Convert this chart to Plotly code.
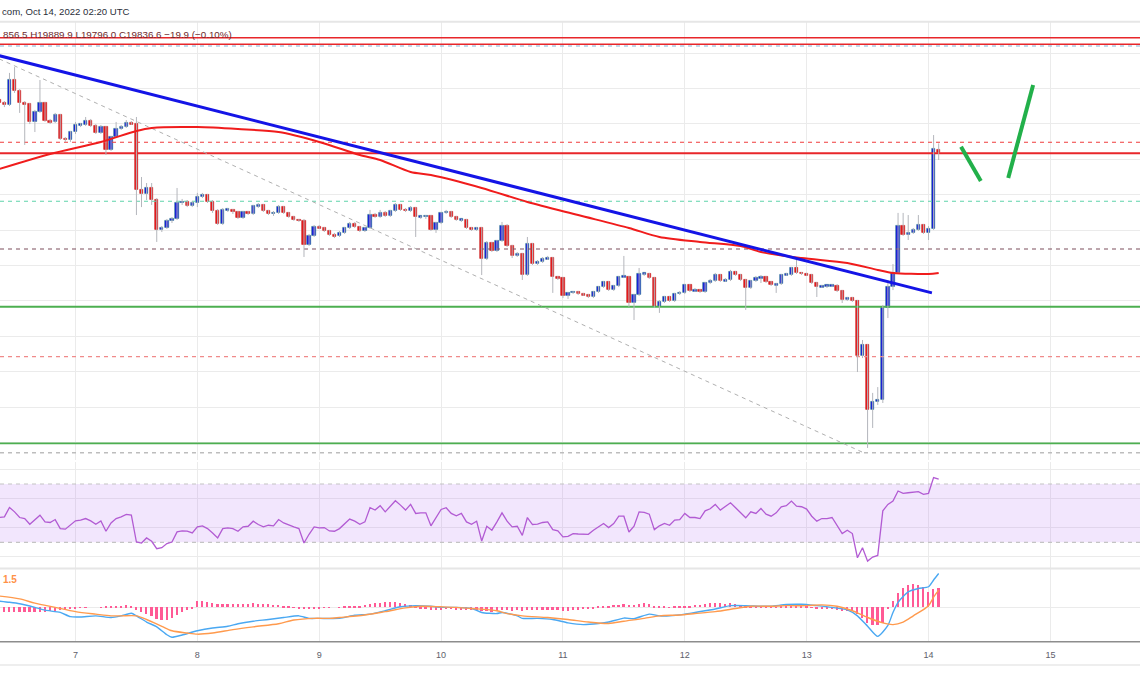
import pandas as pd
import plotly.graph_objects as go

W, H = 1140, 694

# ---------------- data ----------------
candle_start = "2022-10-06 09:00"   # first hourly candle

opens = [
    20135, 20118, 20107, 20248, 20186, 20118, 20112, 20011, 20067, 20118,
    20016, 20011, 20050, 19915, 19909, 19954, 19994, 19996, 20016, 19988,
    19949, 19982, 19853, 19926, 19971, 19982, 20005, 19999, 19627, 19604,
    19638, 19570, 19401, 19412, 19452, 19463, 19553, 19559, 19536, 19553,
    19587, 19598, 19559, 19508, 19434, 19514, 19516, 19502, 19469, 19502,
    19491, 19536, 19542, 19508, 19491, 19497, 19530, 19497, 19474, 19457,
    19452, 19316, 19367, 19417, 19412, 19395, 19372, 19367, 19384, 19412,
    19434, 19417, 19395, 19412, 19485, 19474, 19497, 19480, 19508, 19542,
    19514, 19508, 19525, 19474, 19476, 19480, 19401, 19440, 19497, 19502,
    19474, 19457, 19459, 19412, 19401, 19412, 19237, 19327, 19282, 19338,
    19423, 19310, 19254, 19265, 19146, 19321, 19208, 19220, 19237, 19242,
    19135, 19129, 19028, 19045, 19050, 19039, 19033, 19022, 19050, 19078,
    19107, 19061, 19084, 19135, 19137, 18988, 19033, 19152, 19154, 19129,
    18966, 18994, 19022, 18999, 19039, 19045, 19090, 19056, 19061, 19050,
    19101, 19112, 19146, 19112, 19118, 19163, 19146, 19118, 19073, 19112,
    19129, 19135, 19107, 19090, 19095, 19146, 19148, 19186, 19158, 19152,
    19146, 19101, 19078, 19084, 19086, 19088, 19056, 19005, 19016, 18999,
    18689, 18751, 18384, 18429, 18440, 18960, 19078, 19158, 19423, 19372,
    19384, 19401, 19429, 19384, 19406, 19856.5,
]
highs = [
    20146, 20129, 20288, 20321, 20197, 20129, 20118, 20079, 20248, 20124,
    20028, 20062, 20056, 19926, 19960, 20011, 20005, 20039, 20028, 19999,
    19994, 19988, 19932, 20011, 19994, 20022, 20016, 20039, 19700, 19666,
    19666, 19581, 19423, 19463, 19474, 19638, 19576, 19570, 19564, 19610,
    19610, 19604, 19570, 19519, 19525, 19525, 19519, 19508, 19508, 19508,
    19542, 19553, 19547, 19514, 19508, 19542, 19536, 19502, 19480, 19463,
    19463, 19378, 19429, 19429, 19417, 19401, 19384, 19395, 19417, 19446,
    19446, 19423, 19417, 19514, 19497, 19514, 19508, 19514, 19553, 19547,
    19525, 19536, 19530, 19480, 19485, 19485, 19446, 19502, 19514, 19508,
    19480, 19463, 19463, 19417, 19417, 19417, 19338, 19333, 19344, 19446,
    19434, 19316, 19276, 19270, 19361, 19327, 19231, 19248, 19254, 19248,
    19141, 19135, 19050, 19056, 19056, 19045, 19039, 19056, 19084, 19112,
    19112, 19090, 19141, 19254, 19141, 19039, 19186, 19158, 19158, 19135,
    19005, 19028, 19028, 19045, 19056, 19095, 19095, 19073, 19067, 19107,
    19124, 19158, 19152, 19129, 19175, 19169, 19152, 19124, 19118, 19141,
    19146, 19141, 19112, 19101, 19152, 19158, 19191, 19231, 19163, 19158,
    19152, 19107, 19090, 19090, 19095, 19095, 19061, 19022, 19022, 19005,
    18779, 18756, 18480, 18513, 18977, 19118, 19208, 19497, 19497, 19485,
    19412, 19485, 19434, 19423, 19937, 19889.9,
]
lows = [
    20112, 20095, 20101, 20175, 20062, 19881, 19999, 19954, 20062, 20011,
    19999, 20005, 19909, 19898, 19898, 19943, 19982, 19988, 19982, 19943,
    19943, 19824, 19847, 19920, 19966, 19977, 19994, 19485, 19530, 19570,
    19542, 19333, 19389, 19406, 19440, 19457, 19542, 19530, 19530, 19530,
    19581, 19553, 19497, 19429, 19429, 19502, 19491, 19463, 19463, 19485,
    19485, 19525, 19502, 19485, 19480, 19491, 19491, 19469, 19452, 19446,
    19248, 19310, 19361, 19406, 19389, 19367, 19355, 19361, 19378, 19406,
    19412, 19389, 19389, 19406, 19469, 19469, 19474, 19474, 19502, 19508,
    19502, 19502, 19361, 19463, 19463, 19395, 19384, 19434, 19491, 19469,
    19452, 19446, 19406, 19395, 19395, 19146, 19231, 19276, 19276, 19333,
    19304, 19242, 19248, 19118, 19141, 19203, 19203, 19214, 19231, 19045,
    19118, 19016, 19011, 19039, 19033, 19028, 19016, 19016, 19045, 19073,
    19056, 19056, 19078, 19129, 18966, 18892, 19028, 19141, 19124, 18960,
    18932, 18988, 18994, 18994, 19033, 19039, 19050, 19050, 19045, 19045,
    19095, 19107, 19107, 19107, 19112, 19141, 19112, 18949, 19067, 19107,
    19101, 19101, 19084, 19045, 19090, 19141, 19141, 19152, 19146, 19141,
    19095, 19022, 19073, 19073, 19078, 19050, 18988, 18999, 18994, 18598,
    18677, 18169, 18282, 18412, 18423, 18903, 19061, 19152, 19367, 19344,
    19378, 19395, 19378, 19344, 19401, 19796.0,
]
closes = [
    20118, 20107, 20248, 20186, 20118, 20112, 20011, 20067, 20118, 20016,
    20011, 20050, 19915, 19909, 19954, 19994, 19996, 20016, 19988, 19949,
    19982, 19853, 19926, 19971, 19982, 20005, 19999, 19627, 19604, 19638,
    19570, 19401, 19412, 19452, 19463, 19553, 19559, 19536, 19553, 19587,
    19598, 19559, 19508, 19434, 19514, 19516, 19502, 19469, 19502, 19491,
    19536, 19542, 19508, 19491, 19497, 19530, 19497, 19474, 19457, 19452,
    19316, 19367, 19417, 19412, 19395, 19372, 19367, 19384, 19412, 19434,
    19417, 19395, 19412, 19485, 19474, 19497, 19480, 19508, 19542, 19514,
    19508, 19525, 19474, 19476, 19480, 19401, 19440, 19497, 19502, 19474,
    19457, 19459, 19412, 19401, 19412, 19237, 19327, 19282, 19338, 19423,
    19310, 19254, 19265, 19146, 19321, 19208, 19220, 19237, 19242, 19135,
    19129, 19028, 19045, 19050, 19039, 19033, 19022, 19050, 19078, 19107,
    19061, 19084, 19135, 19137, 18988, 19033, 19152, 19154, 19129, 18966,
    18994, 19022, 18999, 19039, 19045, 19090, 19056, 19061, 19050, 19101,
    19112, 19146, 19112, 19118, 19163, 19146, 19118, 19073, 19112, 19129,
    19135, 19107, 19090, 19095, 19146, 19148, 19186, 19158, 19152, 19146,
    19101, 19078, 19084, 19086, 19088, 19056, 19005, 19016, 18999, 18689,
    18751, 18384, 18429, 18440, 18960, 19078, 19158, 19423, 19372, 19384,
    19401, 19429, 19384, 19406, 19858, 19836.6,
]

rsi_values = [
    47.0, 47.5, 53.9, 50.9, 47.0, 46.3, 42.4, 45.6, 48.6, 44.0,
    43.6, 45.6, 39.4, 39.0, 41.7, 44.7, 45.2, 46.3, 44.7, 42.4,
    44.7, 37.6, 43.3, 46.3, 47.5, 49.1, 48.6, 30.2, 29.5, 33.0,
    30.7, 25.6, 26.3, 29.1, 30.2, 37.1, 37.8, 37.6, 36.4, 40.6,
    41.3, 39.4, 36.4, 33.0, 39.4, 39.9, 39.4, 37.6, 40.6, 41.0,
    44.5, 42.2, 40.6, 41.7, 41.3, 45.6, 43.3, 42.2, 40.6, 39.4,
    29.5, 35.5, 40.6, 39.9, 40.1, 37.8, 37.6, 39.4, 42.9, 45.9,
    44.5, 42.4, 44.0, 53.7, 52.1, 55.1, 50.9, 55.1, 58.5, 55.5,
    52.1, 56.0, 49.8, 50.2, 50.2, 41.3, 47.0, 52.5, 53.7, 49.8,
    48.2, 49.8, 44.0, 42.4, 44.5, 30.9, 41.0, 38.3, 44.0, 50.2,
    44.5, 40.6, 41.0, 34.8, 47.0, 42.2, 42.4, 43.6, 44.0, 38.7,
    37.8, 33.7, 34.1, 36.0, 35.7, 35.7, 35.5, 38.3, 40.6, 42.9,
    40.1, 42.9, 47.9, 47.9, 37.1, 41.0, 50.9, 50.5, 49.3, 38.7,
    41.3, 42.9, 41.7, 45.2, 45.6, 49.8, 47.0, 47.0, 46.3, 51.6,
    53.0, 56.0, 52.1, 54.4, 57.1, 53.7, 50.5, 46.8, 50.9, 49.8,
    53.2, 49.3, 47.9, 50.2, 54.4, 55.1, 58.3, 54.8, 54.4, 52.8,
    47.9, 44.5, 46.3, 46.3, 47.0, 41.7, 36.0, 38.3, 36.0, 19.4,
    26.3, 17.1, 19.9, 21.0, 51.6, 56.0, 58.3, 65.2, 63.6, 64.0,
    64.3, 64.7, 62.9, 63.6, 74.4, 73.4,
]
rsi_band = [30, 70]
rsi_grid = [20, 40, 60, 80]

macd_hist = [
    -14, -16, -17, -18, -18, -18, -17, -17, -16, -15,
    -14, -12, -10, -8, -6, -3, -2, -1, 0, 0,
    1, 2, 3, 5, 6, 7, 5, -10, -18, -24,
    -30, -40, -43, -43, -36, -26, -16, -9, -3, 21,
    22, 18, 15, 12, 12, 11, 11, 12, 13, 13,
    14, 13, 12, 11, 10, 8, 5, 2, -2, -4,
    -6, -5, -4, -3, -2, -1, 0, 1, 2, 3,
    5, 6, 8, 12, 14, 17, 18, 19, 18, 15,
    12, 8, -2, -3, -5, -8, -9, -8, -7, -7,
    -8, -8, -10, -11, -10, -14, -14, -15, -13, -10,
    -11, -12, -11, -14, -10, -11, -10, -9, -8, -11,
    -11, -13, -12, -10, -9, -7, -6, -3, 2, 5,
    6, 8, 10, 12, 10, 8, 13, 14, 12, 6,
    3, 2, 1, 2, 3, 4, 6, 8, 9, 12,
    14, 15, 14, 13, 14, 12, 10, 5, 4, 3,
    2, 2, 1, 1, 2, 3, 4, 4, 3, 2,
    -2, -5, -6, -6, -7, -9, -12, -12, -14, -24,
    -36, -55, -61, -61, -55, -6, 24, 52, 69, 81,
    84, 79, 73, 55, 64, 67,
]

macd_times = [
    "2022-10-06 09:00", "2022-10-06 11:00", "2022-10-06 13:00", "2022-10-06 16:00",
    "2022-10-06 18:00", "2022-10-06 21:00", "2022-10-06 23:00", "2022-10-07 01:00",
    "2022-10-07 04:00", "2022-10-07 07:00", "2022-10-07 09:00", "2022-10-07 11:00",
    "2022-10-07 12:00", "2022-10-07 14:00", "2022-10-07 16:00", "2022-10-07 18:00",
    "2022-10-07 19:00", "2022-10-07 21:00", "2022-10-08 00:00", "2022-10-08 03:00",
    "2022-10-08 06:00", "2022-10-08 08:00", "2022-10-08 11:00", "2022-10-08 14:00",
    "2022-10-08 17:00", "2022-10-08 20:00", "2022-10-08 22:00", "2022-10-09 00:00",
    "2022-10-09 04:00", "2022-10-09 07:00", "2022-10-09 10:00", "2022-10-09 13:00",
    "2022-10-09 16:00", "2022-10-09 19:00", "2022-10-09 22:00", "2022-10-10 00:00",
    "2022-10-10 03:00", "2022-10-10 06:00", "2022-10-10 08:00", "2022-10-10 11:00",
    "2022-10-10 12:00", "2022-10-10 15:00", "2022-10-10 16:00", "2022-10-10 19:00",
    "2022-10-10 22:00", "2022-10-11 01:00", "2022-10-11 04:00", "2022-10-11 07:00",
    "2022-10-11 09:00", "2022-10-11 12:00", "2022-10-11 14:00", "2022-10-11 17:00",
    "2022-10-11 19:00", "2022-10-11 21:00", "2022-10-12 00:00", "2022-10-12 02:00",
    "2022-10-12 06:00", "2022-10-12 09:00", "2022-10-12 12:00", "2022-10-12 15:00",
    "2022-10-12 17:00", "2022-10-12 20:00", "2022-10-12 23:00", "2022-10-13 02:00",
    "2022-10-13 05:00", "2022-10-13 08:00", "2022-10-13 10:00", "2022-10-13 12:00",
    "2022-10-13 14:00", "2022-10-13 16:00", "2022-10-13 17:00", "2022-10-13 18:00",
    "2022-10-13 20:00", "2022-10-13 22:00", "2022-10-14 00:00", "2022-10-14 01:00",
    "2022-10-14 02:00",
]
macd_values = [
    22, 18, 13, 0, -10, -18, -33, -34, -30, -36, -30, -21, -30, -52, -69, -97,
    -106, -98, -83, -73, -67, -58, -49, -43, -36, -30, -39, -39, -39, -28, -24, -12,
    2, 6, 4, 0, 0, -4, -18, -22, -18, -30, -39, -39, -43, -55, -61, -57,
    -52, -38, -40, -24, -30, -30, -24, -18, -6, 6, 6, 4, 4, 10,
    11, 6, 0, -9, -30, -67, -103, -64, -18, 18, 55, 67, 73, 97,
    120,
]

signal_times = [
    "2022-10-06 09:00", "2022-10-06 13:00", "2022-10-06 16:00", "2022-10-06 20:00",
    "2022-10-07 00:00", "2022-10-07 04:00", "2022-10-07 07:00", "2022-10-07 09:00",
    "2022-10-07 12:00", "2022-10-07 14:00", "2022-10-07 17:00", "2022-10-07 19:00",
    "2022-10-07 22:00", "2022-10-08 00:00", "2022-10-08 03:00", "2022-10-08 07:00",
    "2022-10-08 11:00", "2022-10-08 16:00", "2022-10-08 19:00", "2022-10-08 23:00",
    "2022-10-09 02:00", "2022-10-09 04:00", "2022-10-09 09:00", "2022-10-09 13:00",
    "2022-10-09 17:00", "2022-10-09 20:00", "2022-10-10 00:00", "2022-10-10 03:00",
    "2022-10-10 06:00", "2022-10-10 11:00", "2022-10-10 13:00", "2022-10-10 16:00",
    "2022-10-10 21:00", "2022-10-11 01:00", "2022-10-11 05:00", "2022-10-11 09:00",
    "2022-10-11 12:00", "2022-10-11 16:00", "2022-10-11 19:00", "2022-10-11 23:00",
    "2022-10-12 02:00", "2022-10-12 06:00", "2022-10-12 10:00", "2022-10-12 13:00",
    "2022-10-12 17:00", "2022-10-12 20:00", "2022-10-13 00:00", "2022-10-13 03:00",
    "2022-10-13 06:00", "2022-10-13 09:00", "2022-10-13 12:00", "2022-10-13 15:00",
    "2022-10-13 17:00", "2022-10-13 19:00", "2022-10-13 21:00", "2022-10-14 00:00",
    "2022-10-14 01:00", "2022-10-14 02:00",
]
signal_values = [
    40, 30, 15, 0, -15, -24, -30, -30, -30, -43, -67, -83, -91, -95, -91, -79,
    -69, -58, -45, -39, -39, -36, -27, -15, -2, 4, 2, 0, -4, -12, -22, -30,
    -36, -43, -52, -57, -49, -39, -30, -27, -22, -15, -4, 4, 4, 6,
    6, 9, 4, -12, -36, -55, -61, -52, -30, 6, 36, 61,
]

ma_times = [
    "2022-10-06 09:00", "2022-10-06 19:00", "2022-10-07 05:00", "2022-10-07 12:00",
    "2022-10-07 15:00", "2022-10-08 00:00", "2022-10-08 08:00", "2022-10-08 16:00",
    "2022-10-09 00:00", "2022-10-09 08:00", "2022-10-09 12:00", "2022-10-09 18:00",
    "2022-10-09 22:00", "2022-10-10 08:00", "2022-10-10 17:00", "2022-10-11 03:00",
    "2022-10-11 13:00", "2022-10-11 19:00", "2022-10-12 03:00", "2022-10-12 11:00",
    "2022-10-12 15:00", "2022-10-12 23:00", "2022-10-13 08:00", "2022-10-13 14:00",
    "2022-10-13 17:00", "2022-10-14 00:00", "2022-10-14 02:00",
]
ma_values = [
    19745, 19830, 19898, 19960, 19977, 19982, 19971, 19954, 19898, 19824,
    19796, 19728, 19711, 19638, 19559, 19485, 19412, 19361, 19333, 19310,
    19276, 19242, 19214, 19175, 19158, 19152, 19158,
]

trend_times = ["2022-10-06 09:00", "2022-10-14 00:40"]
trend_prices = [20385, 19045]
fib_diag_times = ["2022-10-06 09:00", "2022-10-13 10:55"]
fib_diag_prices = [20367, 18146]
sketch1_times = ["2022-10-14 06:24", "2022-10-14 10:18"]
sketch1_prices = [19871, 19677]
sketch2_times = ["2022-10-14 15:42", "2022-10-14 20:36"]
sketch2_prices = [19694, 20220]

level_prices = [20487, 20450, 20440, 19896, 19834, 19563, 19293, 18967, 18685, 18195, 18142]

day_ticks = ["2022-10-%02d" % d for d in range(7, 16)]
day_labels = [str(d) for d in range(7, 16)]

header_text = "com, Oct 14, 2022 02:20 UTC"
ohlc_text = "856.5 H19889.9 L19796.0 C19836.6 \u221219.9 (\u22120.10%)"
signal_label = "1.5"

n = len(closes)
assert len(opens) == n and len(highs) == n and len(lows) == n
assert len(rsi_values) == n and len(macd_hist) == n
assert len(macd_times) == len(macd_values)
assert len(signal_times) == len(signal_values)
assert len(ma_times) == len(ma_values)

# ---------------- styles ----------------
level_styles = [
    ("#e8262a", "solid", 1.6), ("#e8262a", "solid", 1.6), ("#86b2d6", "4px,4px", 1.2),
    ("#f03c3c", "4px,4px", 1.1), ("#e8262a", "solid", 2.0), ("#5fd3ab", "4px,4px", 1.1),
    ("#7d4f5c", "4px,4px", 1.1), ("#4caf50", "solid", 1.8), ("#f08a8a", "4px,4px", 1.1),
    ("#4caf50", "solid", 1.8), ("#bdbdbd", "4px,4px", 1.3),
]
UP, DOWN = "#1818e0", "#e8191c"
UP_EDGE, DOWN_EDGE = "#2a7a86", "#c41a1a"
GRID = "#ebebeb"
FONT = "Liberation Sans"


def py(ypx):
    return 1 - ypx / H


times = pd.date_range(candle_start, periods=n, freq="h")
x_range = ["2022-10-06 09:07:50", "2022-10-15 17:39:00"]

# candle bodies (bars) and wicks
MIN_BODY = 8.0
body_base, body_h, body_col, body_edge = [], [], [], []
for o, c in zip(opens, closes):
    lo, hi = min(o, c), max(o, c)
    if hi - lo < MIN_BODY:
        mid = (hi + lo) / 2
        lo, hi = mid - MIN_BODY / 2, mid + MIN_BODY / 2
    body_base.append(lo)
    body_h.append(hi - lo)
    body_col.append(UP if c >= o else DOWN)
    body_edge.append(UP_EDGE if c >= o else DOWN_EDGE)

wick_x, wick_y = [], []
for t, lo, hi in zip(times, lows, highs):
    wick_x += [t, t, None]
    wick_y += [lo, hi, None]

fig = go.Figure()

# ---- main pane ----
for p, (col, dash, w) in zip(level_prices, level_styles):
    fig.add_trace(go.Scatter(x=x_range, y=[p, p], mode="lines",
                             line=dict(color=col, width=w, dash=dash),
                             xaxis="x", yaxis="y", hoverinfo="skip"))
fig.add_trace(go.Scatter(x=fib_diag_times, y=fib_diag_prices, mode="lines",
                         line=dict(color="#b0b0b0", width=1, dash="4px,4px"),
                         xaxis="x", yaxis="y", hoverinfo="skip"))
fig.add_trace(go.Scatter(x=wick_x, y=wick_y, mode="lines",
                         line=dict(color="#b4b6bc", width=1),
                         xaxis="x", yaxis="y", hoverinfo="skip"))
fig.add_trace(go.Bar(x=times, y=body_h, base=body_base, width=0.65 * 3600000,
                     marker=dict(color=body_col, line=dict(color=body_edge, width=0.6)),
                     xaxis="x", yaxis="y"))
fig.add_trace(go.Scatter(x=ma_times, y=ma_values, mode="lines",
                         line=dict(color="#f01c1c", width=2, shape="spline", smoothing=0.8),
                         xaxis="x", yaxis="y"))
fig.add_trace(go.Scatter(x=trend_times, y=trend_prices, mode="lines",
                         line=dict(color="#1414e6", width=3),
                         xaxis="x", yaxis="y"))
for tt, pp in ((sketch1_times, sketch1_prices), (sketch2_times, sketch2_prices)):
    fig.add_trace(go.Scatter(x=tt, y=pp, mode="lines",
                             line=dict(color="#22b04a", width=4),
                             xaxis="x", yaxis="y"))

# ---- RSI pane ----
fig.add_trace(go.Scatter(x=[x_range[0], x_range[1], x_range[1], x_range[0], x_range[0]],
                         y=[rsi_band[0], rsi_band[0], rsi_band[1], rsi_band[1], rsi_band[0]],
                         mode="lines", fill="toself", fillcolor="rgba(175,100,240,0.16)",
                         line=dict(width=0), xaxis="x2", yaxis="y2", hoverinfo="skip"))
for v in rsi_band:
    fig.add_trace(go.Scatter(x=x_range, y=[v, v], mode="lines",
                             line=dict(color="#c4c4c4", width=1.2, dash="4px,4px"),
                             xaxis="x2", yaxis="y2", hoverinfo="skip"))
fig.add_trace(go.Scatter(x=times, y=rsi_values, mode="lines",
                         line=dict(color="#b25bd3", width=1.3),
                         xaxis="x2", yaxis="y2"))

# ---- MACD pane ----
fig.add_trace(go.Bar(x=times, y=macd_hist, width=0.35 * 3600000,
                     marker=dict(color="#ff5a95", line=dict(width=0)),
                     xaxis="x3", yaxis="y3"))
fig.add_trace(go.Scatter(x=macd_times, y=macd_values, mode="lines",
                         line=dict(color="#4aa8f2", width=1.4, shape="spline", smoothing=0.6),
                         xaxis="x3", yaxis="y3"))
fig.add_trace(go.Scatter(x=signal_times, y=signal_values, mode="lines",
                         line=dict(color="#ff9a4d", width=1.4, shape="spline", smoothing=0.8),
                         xaxis="x3", yaxis="y3"))

shapes = []
for ypx, col, w in ((21.7, "#e6e6e6", 2), (568.5, "#e6e6e6", 2), (641.7, "#8d8d8d", 1.5),
                    (665, "#e8e8e8", 1.5)):
    shapes.append(dict(type="line", xref="paper", yref="paper", x0=0, x1=1,
                       y0=py(ypx), y1=py(ypx), line=dict(color=col, width=w)))

annotations = [
    dict(text=header_text, xref="paper", yref="paper", x=0, y=py(12), xanchor="left",
         yanchor="middle", showarrow=False, font=dict(family=FONT, size=9.6, color="#2a2e39")),
    dict(text=ohlc_text, xref="paper", yref="paper", x=1 / W, y=py(34.5), xanchor="left",
         yanchor="middle", showarrow=False, font=dict(family=FONT, size=9.8, color="#6e2a2d")),
    dict(text="<b>" + signal_label + "</b>", xref="paper", yref="paper", x=1 / W, y=py(579),
         xanchor="left", yanchor="middle", showarrow=False,
         font=dict(family=FONT, size=10, color="#ff9147")),
]

xcommon = dict(type="date", range=x_range, tickvals=day_ticks, showgrid=True,
               gridcolor=GRID, gridwidth=1.3, zeroline=False, showline=False, fixedrange=True)

fig.update_layout(
    width=W, height=H, margin=dict(l=0, r=0, t=0, b=0),
    paper_bgcolor="white", plot_bgcolor="white", showlegend=False,
    barmode="overlay", bargap=0,
    xaxis=dict(xcommon, anchor="y", domain=[0, 1], showticklabels=False),
    xaxis2=dict(xcommon, anchor="y2", domain=[0, 1], showticklabels=False),
    xaxis3=dict(xcommon, anchor="y3", domain=[0, 1], showticklabels=True,
                ticktext=day_labels, ticks="", ticklabelstandoff=6,
                tickfont=dict(family=FONT, size=9, color="#5d606b")),
    yaxis=dict(domain=[py(460), py(21.7)], range=[18101, 20577.4], tick0=0, dtick=200,
               showticklabels=False, showgrid=True, gridcolor=GRID, gridwidth=1.3,
               zeroline=False, fixedrange=True),
    yaxis2=dict(domain=[py(568), py(462)], range=[12.37, 85.09], tickvals=rsi_grid,
                showticklabels=False, showgrid=True, gridcolor=GRID, gridwidth=1.3,
                zeroline=False, fixedrange=True),
    yaxis3=dict(domain=[py(641.7), py(569)], range=[-121.7, 136], tickvals=[0],
                showticklabels=False, showgrid=True, gridcolor=GRID, gridwidth=1.3,
                zeroline=False, fixedrange=True),
    shapes=shapes, annotations=annotations,
)

fig.write_html("out.html")
